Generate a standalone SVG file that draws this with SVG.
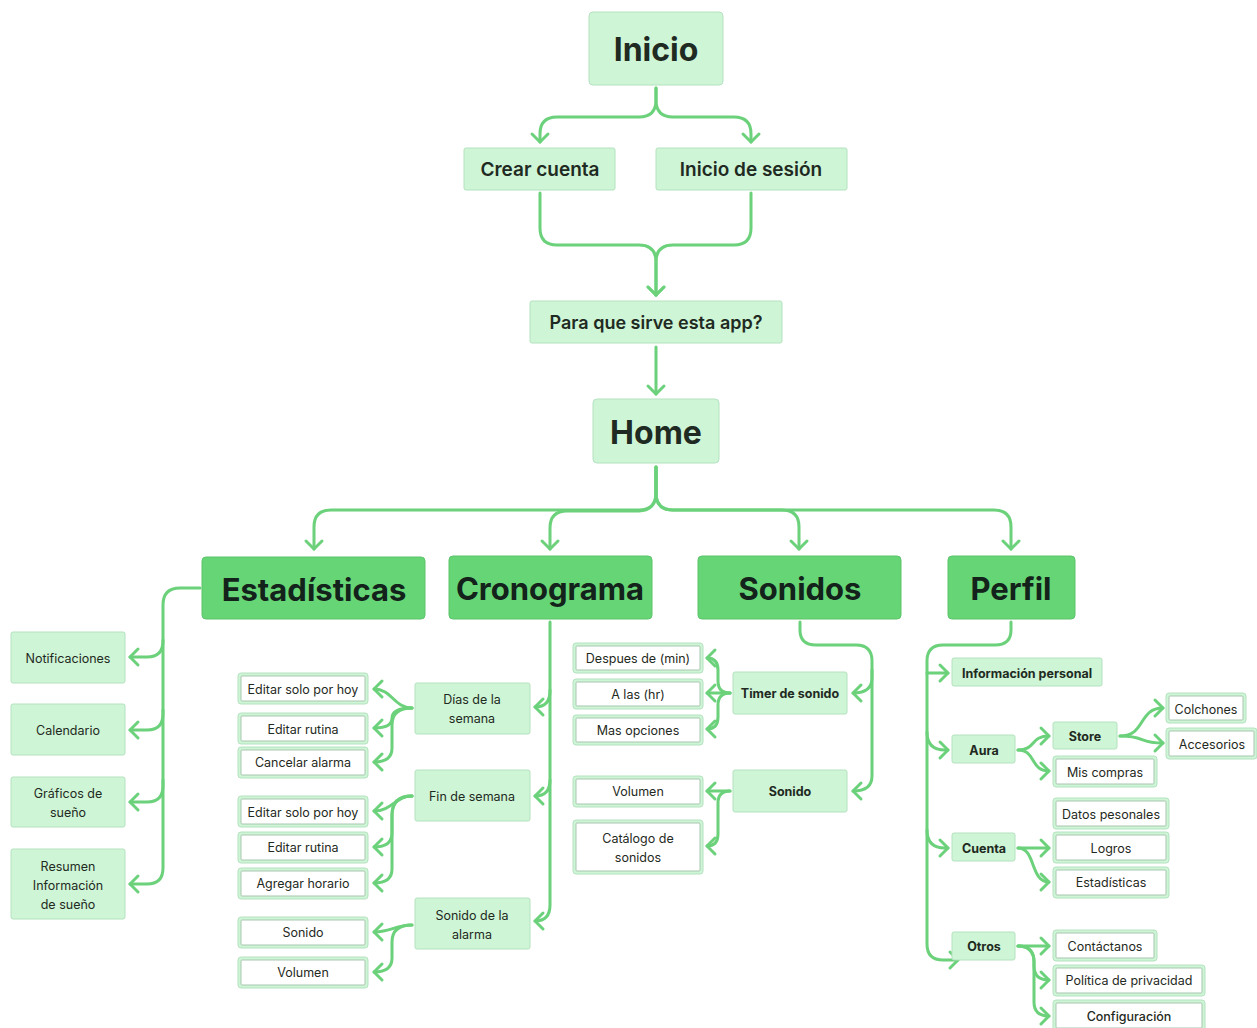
<svg xmlns="http://www.w3.org/2000/svg" width="1257" height="1028" viewBox="0 0 1257 1028">
<defs>
<marker id="arr" markerUnits="userSpaceOnUse" markerWidth="26" markerHeight="26" viewBox="-13 -13 26 26" refX="0" refY="0" orient="auto">
<path d="M-8,-8 L0,0 L-8,8" fill="none" stroke="#6BD17A" stroke-width="3" stroke-linecap="round" stroke-linejoin="round"/>
</marker>
<style>
.lt{fill:#CEF5D6;stroke:#B5E2C0;stroke-width:1}
.dk{fill:#66D575;stroke:#5CC46A;stroke-width:1}
.wo{fill:#CEF5D6;stroke:#B5E2C0;stroke-width:1}
.wi{fill:#FFFFFF;stroke:#A8C7AF;stroke-width:1}
text{font-family:Inter,"Liberation Sans",sans-serif;fill:#1F2A22;text-anchor:middle;dominant-baseline:central}
.t1{font-size:32px;font-weight:700}
.t2{font-size:19px;font-weight:600}
.t3{font-size:31px;font-weight:700;fill:#13221A}
.t4{font-size:12.5px;font-weight:400}
.t5{font-size:12.5px;font-weight:700}
.t6{font-size:12.5px;font-weight:500}
.c path{fill:none;stroke:#6BD17A;stroke-width:3;stroke-linecap:round;stroke-linejoin:round}
</style>
</defs>
<rect width="1257" height="1028" fill="#FFFFFF"/>
<g class="c">
<path d="M656,88 V100 Q656,117 639,117 H557 Q540,117 540,134 V142" marker-end="url(#arr)"/>
<path d="M656,88 V100 Q656,117 673,117 H734 Q751,117 751,134 V142" marker-end="url(#arr)"/>
<path d="M540,193 V228 Q540,245 557,245 H639 Q656,245 656,262 V295" marker-end="url(#arr)"/>
<path d="M751,193 V228 Q751,245 734,245 H673 Q656,245 656,262 V295" marker-end="url(#arr)"/>
<path d="M656,347 V394" marker-end="url(#arr)"/>
<path d="M656,467 V493 Q656,510 639,510 H331 Q314,510 314,527 V549" marker-end="url(#arr)"/>
<path d="M656,467 V493 Q656,510 639,511 H567 Q550,511 550,528 V549" marker-end="url(#arr)"/>
<path d="M656,467 V493 Q656,510 673,510 H782 Q799,510 799,527 V549" marker-end="url(#arr)"/>
<path d="M656,467 V493 Q656,510 673,510 H994 Q1011,510 1011,527 V549" marker-end="url(#arr)"/>
<path d="M200,588 H180 Q163,588 163,605 V641 Q163,657 147,657 H130" marker-end="url(#arr)"/>
<path d="M163,640 V714 Q163,730 147,730 H130" marker-end="url(#arr)"/>
<path d="M163,710 V786 Q163,802 147,802 H130" marker-end="url(#arr)"/>
<path d="M163,780 V868 Q163,884 147,884 H130" marker-end="url(#arr)"/>
<path d="M550,622 V691 Q550,707 535,707" marker-end="url(#arr)"/>
<path d="M550,690 V780 Q550,796 535,796" marker-end="url(#arr)"/>
<path d="M550,780 V905 Q550,921 535,921" marker-end="url(#arr)"/>
<path d="M412,708 C394,708 392,689 374,689" marker-end="url(#arr)"/>
<path d="M412,708 Q392,708 392,718 Q392,728 374,728" marker-end="url(#arr)"/>
<path d="M412,708 Q392,708 392,725 V748 Q392,762 374,762" marker-end="url(#arr)"/>
<path d="M412,796 C395,796 392,811 374,811" marker-end="url(#arr)"/>
<path d="M412,796 Q392,796 392,815 V833 Q392,847 374,847" marker-end="url(#arr)"/>
<path d="M412,796 Q392,796 392,815 V869 Q392,883 374,883" marker-end="url(#arr)"/>
<path d="M412,925 C395,925 392,932 374,932" marker-end="url(#arr)"/>
<path d="M412,925 Q392,925 392,942 V958 Q392,972 374,972" marker-end="url(#arr)"/>
<path d="M800,622 V630 Q800,645 816,645 H856 Q872,645 872,661 V678 Q872,693 853,693" marker-end="url(#arr)"/>
<path d="M872,670 V776 Q872,791 853,791" marker-end="url(#arr)"/>
<path d="M730,693 Q718,693 718,681 V670 Q718,658 707,658" marker-end="url(#arr)"/>
<path d="M730,693 H707" marker-end="url(#arr)"/>
<path d="M730,693 Q718,693 718,705 V717 Q718,729 707,729" marker-end="url(#arr)"/>
<path d="M730,791 H707" marker-end="url(#arr)"/>
<path d="M730,791 Q718,791 718,803 V834 Q718,846 707,846" marker-end="url(#arr)"/>
<path d="M1011,622 V630 Q1011,645 995,645 H943 Q927,645 927,661 V944 Q927,960 943,960 H958" marker-end="url(#arr)"/>
<path d="M927,673 H948" marker-end="url(#arr)"/>
<path d="M927,732 Q927,750 945,750 H948" marker-end="url(#arr)"/>
<path d="M927,830 Q927,848 945,848 H948" marker-end="url(#arr)"/>
<path d="M1018,750 C1036,750 1030,736 1049,736" marker-end="url(#arr)"/>
<path d="M1018,750 C1036,750 1030,771 1049,771" marker-end="url(#arr)"/>
<path d="M1120,736 C1146,736 1138,708 1163,708" marker-end="url(#arr)"/>
<path d="M1120,736 C1146,736 1138,743 1163,743" marker-end="url(#arr)"/>
<path d="M1018,848 H1049" marker-end="url(#arr)"/>
<path d="M1018,848 C1036,848 1030,882 1049,882" marker-end="url(#arr)"/>
<path d="M1018,946 H1049" marker-end="url(#arr)"/>
<path d="M1018,946 Q1034,946 1034,962 V966 Q1034,980 1049,980" marker-end="url(#arr)"/>
<path d="M1018,946 Q1034,946 1034,962 V1002 Q1034,1016 1049,1016" marker-end="url(#arr)"/>
</g>
<g id="n-inicio"><rect class="lt" x="589" y="12" width="134" height="73" rx="4"/><text class="t1" x="656" y="49">Inicio</text></g>
<g id="n-crear"><rect class="lt" x="464" y="148" width="151" height="42" rx="2"/><text class="t2" x="540" y="169">Crear cuenta</text></g>
<g id="n-sesion"><rect class="lt" x="656" y="148" width="191" height="42" rx="2"/><text class="t2" x="751" y="169">Inicio de sesión</text></g>
<g id="n-para"><rect class="lt" x="530" y="301" width="252" height="42" rx="2"/><text class="t2" x="656" y="322" style="font-size:18px">Para que sirve esta app?</text></g>
<g id="n-home"><rect class="lt" x="593" y="399" width="126" height="64" rx="4"/><text class="t1" x="656" y="432">Home</text></g>
<g id="n-estad"><rect class="dk" x="202" y="557" width="223" height="62" rx="4"/><text class="t3" x="314" y="589">Estadísticas</text></g>
<g id="n-crono"><rect class="dk" x="449" y="556" width="203" height="63" rx="4"/><text class="t3" x="550" y="588">Cronograma</text></g>
<g id="n-sonidos"><rect class="dk" x="698" y="556" width="203" height="63" rx="4"/><text class="t3" x="800" y="588">Sonidos</text></g>
<g id="n-perfil"><rect class="dk" x="948" y="556" width="127" height="63" rx="4"/><text class="t3" x="1011" y="588">Perfil</text></g>
<g id="n-notif"><rect class="lt" x="11" y="632" width="114" height="51" rx="2"/><text class="t4" x="68" y="658">Notificaciones</text></g>
<g id="n-cal"><rect class="lt" x="11" y="704" width="114" height="51" rx="2"/><text class="t4" x="68" y="730">Calendario</text></g>
<g id="n-graf"><rect class="lt" x="11" y="777" width="114" height="50" rx="2"/><text class="t4" x="68" y="793">Gráficos de</text><text class="t4" x="68" y="812">sueño</text></g>
<g id="n-resumen"><rect class="lt" x="11" y="849" width="114" height="70" rx="2"/><text class="t4" x="68" y="866">Resumen</text><text class="t4" x="68" y="885">Información</text><text class="t4" x="68" y="904">de sueño</text></g>
<g id="n-dias"><rect class="lt" x="415" y="683" width="115" height="51" rx="2"/><text class="t4" x="472" y="699">Días de la</text><text class="t4" x="472" y="718">semana</text></g>
<g id="n-fin"><rect class="lt" x="415" y="770" width="115" height="51" rx="2"/><text class="t4" x="472" y="796">Fin de semana</text></g>
<g id="n-sonalarma"><rect class="lt" x="415" y="898" width="115" height="51" rx="2"/><text class="t4" x="472" y="915">Sonido de la</text><text class="t4" x="472" y="934">alarma</text></g>
<g id="n-ed1"><rect class="wo" x="238" y="673" width="130" height="31" rx="3"/><rect class="wi" x="241" y="676" width="124" height="25" rx="1"/><text class="t4" x="303" y="689">Editar solo por hoy</text></g>
<g id="n-er1"><rect class="wo" x="238" y="713" width="130" height="31" rx="3"/><rect class="wi" x="241" y="716" width="124" height="25" rx="1"/><text class="t4" x="303" y="729">Editar rutina</text></g>
<g id="n-ca"><rect class="wo" x="238" y="747" width="130" height="31" rx="3"/><rect class="wi" x="241" y="750" width="124" height="25" rx="1"/><text class="t4" x="303" y="762">Cancelar alarma</text></g>
<g id="n-ed2"><rect class="wo" x="238" y="796" width="130" height="31" rx="3"/><rect class="wi" x="241" y="799" width="124" height="25" rx="1"/><text class="t4" x="303" y="812">Editar solo por hoy</text></g>
<g id="n-er2"><rect class="wo" x="238" y="832" width="130" height="31" rx="3"/><rect class="wi" x="241" y="835" width="124" height="25" rx="1"/><text class="t4" x="303" y="847">Editar rutina</text></g>
<g id="n-ah"><rect class="wo" x="238" y="868" width="130" height="31" rx="3"/><rect class="wi" x="241" y="871" width="124" height="25" rx="1"/><text class="t4" x="303" y="883">Agregar horario</text></g>
<g id="n-son"><rect class="wo" x="238" y="917" width="130" height="31" rx="3"/><rect class="wi" x="241" y="920" width="124" height="25" rx="1"/><text class="t4" x="303" y="932">Sonido</text></g>
<g id="n-vol"><rect class="wo" x="238" y="957" width="130" height="31" rx="3"/><rect class="wi" x="241" y="960" width="124" height="25" rx="1"/><text class="t4" x="303" y="972">Volumen</text></g>
<g id="n-timer"><rect class="lt" x="733" y="672" width="114" height="42" rx="2"/><text class="t5" x="790" y="693">Timer de sonido</text></g>
<g id="n-sonido"><rect class="lt" x="733" y="770" width="114" height="42" rx="2"/><text class="t5" x="790" y="791">Sonido</text></g>
<g id="n-despues"><rect class="wo" x="573" y="643" width="130" height="30" rx="3"/><rect class="wi" x="576" y="646" width="124" height="24" rx="1"/><text class="t4" x="638" y="658">Despues de (min)</text></g>
<g id="n-alas"><rect class="wo" x="573" y="679" width="130" height="30" rx="3"/><rect class="wi" x="576" y="682" width="124" height="24" rx="1"/><text class="t4" x="638" y="694">A las (hr)</text></g>
<g id="n-mas"><rect class="wo" x="573" y="715" width="130" height="30" rx="3"/><rect class="wi" x="576" y="718" width="124" height="24" rx="1"/><text class="t4" x="638" y="730">Mas opciones</text></g>
<g id="n-vol2"><rect class="wo" x="573" y="776" width="130" height="31" rx="3"/><rect class="wi" x="576" y="779" width="124" height="25" rx="1"/><text class="t4" x="638" y="791">Volumen</text></g>
<g id="n-cat"><rect class="wo" x="573" y="820" width="130" height="54" rx="3"/><rect class="wi" x="576" y="823" width="124" height="48" rx="1"/><text class="t4" x="638" y="838">Catálogo de</text><text class="t4" x="638" y="857">sonidos</text></g>
<g id="n-info"><rect class="lt" x="952" y="658" width="150" height="28" rx="2"/><text class="t5" x="1027" y="673">Información personal</text></g>
<g id="n-aura"><rect class="lt" x="952" y="735" width="63" height="28" rx="2"/><text class="t5" x="984" y="750">Aura</text></g>
<g id="n-cuenta"><rect class="lt" x="952" y="833" width="63" height="28" rx="2"/><text class="t5" x="984" y="848">Cuenta</text></g>
<g id="n-otros"><rect class="lt" x="952" y="932" width="63" height="28" rx="2"/><text class="t5" x="984" y="946">Otros</text></g>
<g id="n-store"><rect class="lt" x="1053" y="722" width="64" height="27" rx="2"/><text class="t5" x="1085" y="736">Store</text></g>
<g id="n-colch"><rect class="wo" x="1166" y="693" width="80" height="30" rx="3"/><rect class="wi" x="1169" y="696" width="74" height="24" rx="1"/><text class="t4" x="1206" y="709">Colchones</text></g>
<g id="n-acc"><rect class="wo" x="1166" y="728" width="91" height="31" rx="3"/><rect class="wi" x="1169" y="731" width="85" height="25" rx="1"/><text class="t4" x="1212" y="744">Accesorios</text></g>
<g id="n-mis"><rect class="wo" x="1053" y="756" width="104" height="31" rx="3"/><rect class="wi" x="1056" y="759" width="98" height="25" rx="1"/><text class="t4" x="1105" y="772">Mis compras</text></g>
<g id="n-datos"><rect class="wo" x="1053" y="798" width="116" height="31" rx="3"/><rect class="wi" x="1056" y="801" width="110" height="25" rx="1"/><text class="t4" x="1111" y="814">Datos pesonales</text></g>
<g id="n-logros"><rect class="wo" x="1053" y="832" width="116" height="31" rx="3"/><rect class="wi" x="1056" y="835" width="110" height="25" rx="1"/><text class="t4" x="1111" y="848">Logros</text></g>
<g id="n-est2"><rect class="wo" x="1053" y="867" width="116" height="31" rx="3"/><rect class="wi" x="1056" y="870" width="110" height="25" rx="1"/><text class="t4" x="1111" y="882">Estadísticas</text></g>
<g id="n-cont"><rect class="wo" x="1053" y="930" width="104" height="31" rx="3"/><rect class="wi" x="1056" y="933" width="98" height="25" rx="1"/><text class="t4" x="1105" y="946">Contáctanos</text></g>
<g id="n-pol"><rect class="wo" x="1053" y="965" width="152" height="31" rx="3"/><rect class="wi" x="1056" y="968" width="146" height="25" rx="1"/><text class="t4" x="1129" y="980">Política de privacidad</text></g>
<g id="n-conf"><rect class="wo" x="1053" y="1000" width="152" height="31" rx="3"/><rect class="wi" x="1056" y="1003" width="146" height="25" rx="1"/><text class="t6" x="1129" y="1016">Configuración</text></g>
</svg>
